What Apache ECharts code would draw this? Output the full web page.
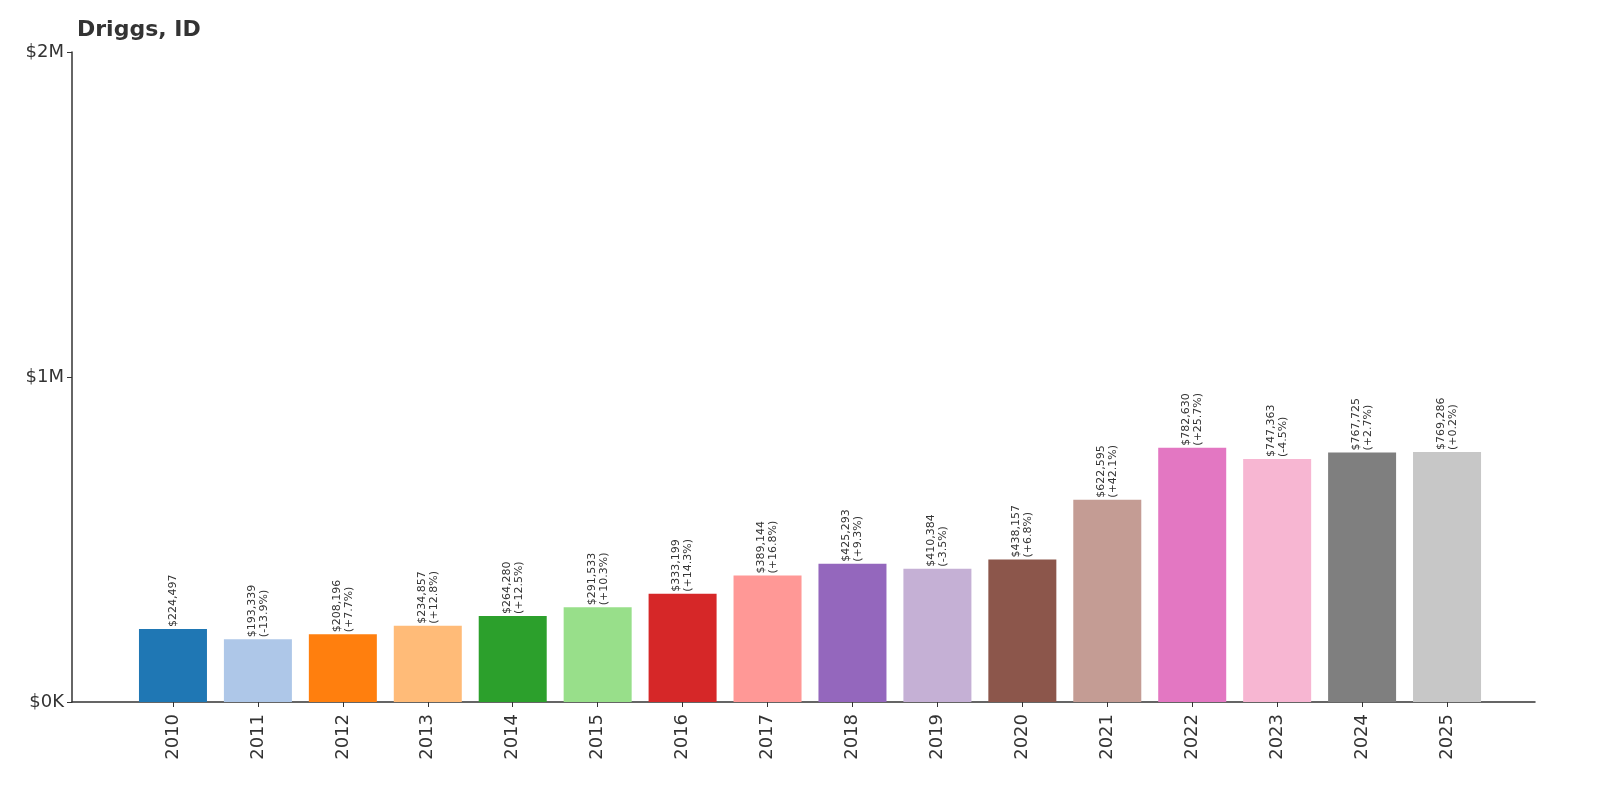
<!DOCTYPE html>
<html><head><meta charset="utf-8">
<script src="https://cdn.jsdelivr.net/npm/echarts@6/dist/echarts.min.js"></script>
<style>html,body{margin:0;padding:0;background:#fff}#c{width:1600px;height:800px}</style>
</head><body><div id="c"></div>
<script>
const years = ['2010','2011','2012','2013','2014','2015','2016','2017','2018','2019','2020','2021','2022','2023','2024','2025'];
const values = [224497,193339,208196,234857,264280,291533,333199,389144,425293,410384,438157,622595,782630,747363,767725,769286];
const changes = ['','-13.9%','+7.7%','+12.8%','+12.5%','+10.3%','+14.3%','+16.8%','+9.3%','-3.5%','+6.8%','+42.1%','+25.7%','-4.5%','+2.7%','+0.2%'];
const colors = ['#1f77b4','#aec7e8','#ff7f0e','#ffbb78','#2ca02c','#98df8a','#d62728','#ff9896','#9467bd','#c5b0d5','#8c564b','#c49c94','#e377c2','#f7b6d2','#7f7f7f','#c7c7c7'];
const yTicks = {0:'$0K',1000000:'$1M',2000000:'$2M'};
const font = 'DejaVu Sans';
const chart = echarts.init(document.getElementById('c'));
chart.setOption({
  animation:false,
  title:{text:'Driggs, ID',left:72,top:14,textStyle:{fontFamily:font,fontSize:22,fontWeight:'bold',color:'#333'}},
  grid:[
    {left:130.5,right:110.5,top:52,bottom:98},
    {left:72,right:65,top:52,bottom:98}
  ],
  xAxis:[
    {type:'category',gridIndex:0,data:years,axisLine:{show:false},axisTick:{show:true,alignWithLabel:true,lineStyle:{color:'#333'}},
     axisLabel:{rotate:90,fontFamily:font,fontSize:18,color:'#333',margin:12}},
    {type:'value',gridIndex:1,min:0,max:1,axisLine:{show:true,lineStyle:{color:'#333',width:1.5}},axisTick:{show:false},axisLabel:{show:false},splitLine:{show:false}}
  ],
  yAxis:[
    {type:'value',gridIndex:0,min:0,max:2000000,show:false},
    {type:'value',gridIndex:1,min:0,max:2000000,interval:1000000,
     axisLine:{show:true,lineStyle:{color:'#333',width:1.5}},axisTick:{show:true,length:5,lineStyle:{color:'#333'}},splitLine:{show:false},
     axisLabel:{fontFamily:font,fontSize:18,color:'#333',formatter:v=>yTicks[v]}}
  ],
  series:[{
    type:'bar',xAxisIndex:0,yAxisIndex:0,barWidth:68,
    data:values.map((v,i)=>({value:v,itemStyle:{color:colors[i]}})),
    label:{show:true,position:'top',rotate:90,align:'left',verticalAlign:'middle',distance:2,
      fontFamily:font,fontSize:11,color:'#333',lineHeight:12,
      formatter:p=>'$'+values[p.dataIndex].toLocaleString('en-US')+(changes[p.dataIndex]?'\n('+changes[p.dataIndex]+')':'')}
  }]
});
</script></body></html>
